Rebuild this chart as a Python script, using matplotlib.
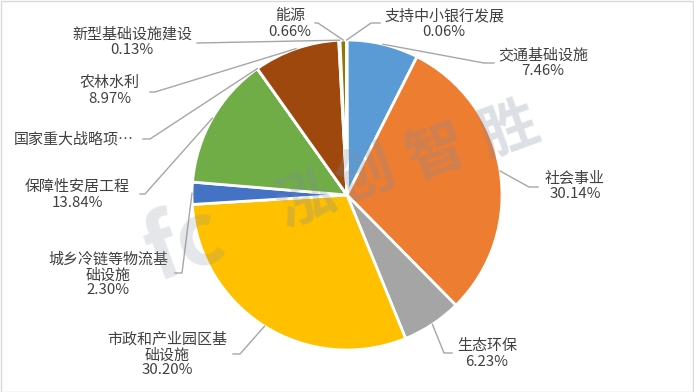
import numpy as np
import matplotlib.pyplot as plt
from matplotlib.patches import Rectangle

plt.rcParams['font.family'] = ['Noto Sans CJK SC', 'DejaVu Sans']

# 数据（顺时针，从12点方向开始）
labels = ['交通基础设施', '社会事业', '生态环保', '市政和产业园区基\n础设施', '城乡冷链等物流基\n础设施',
          '保障性安居工程', '国家重大战略项…', '农林水利', '新型基础设施建设', '能源', '支持中小银行发展']
values = [7.46, 30.14, 6.23, 30.20, 2.30, 13.84, 0.01, 8.97, 0.13, 0.66, 0.06]
show_pct = [True, True, True, True, True, True, False, True, True, True, True]
colors = ['#5B9BD5', '#ED7D31', '#A5A5A5', '#FFC000', '#4472C4', '#70AD47',
          '#255E91', '#9E480E', '#636363', '#997300', '#264478']

# 标签布局（像素坐标，自上而下）：文字中心, 折点, 线终点
label_xy = [(543, 63), (575, 186), (487, 354), (167, 355), (108, 275),
            (77, 195), (74, 139), (110, 91), (132, 42), (290, 24), (444, 24)]
elbow_xy = [(484, 63), (529, 187), (444, 353), (240, 354), (182, 273),
            (145, 194), (150, 139), (155, 92), (197, 43), (318, 23), (371, 23)]
end_xy = [(494, 63), (538, 187), (452, 353), (233, 354), (175, 273),
          (140, 194), (143, 139), (150, 92), (197, 43), (315, 23), (380, 23)]

W, H = 694, 392
cx, cy, r = 347, 195, 155


def fy(y):
    return H - y


fig = plt.figure(figsize=(W / 100, H / 100), dpi=100)
ax = fig.add_axes([0, 0, 1, 1])
ax.set_xlim(0, W)
ax.set_ylim(0, H)
ax.set_aspect('equal')
ax.axis('off')

wedges, _ = ax.pie(values, colors=colors, startangle=90, counterclock=False,
                   center=(cx, fy(cy)), radius=r,
                   wedgeprops=dict(edgecolor='white', linewidth=2))
ax.set_xlim(0, W)
ax.set_ylim(0, H)

txt_color = '#404040'
line_color = '#A6A6A6'
for i, w in enumerate(wedges):
    ang = np.deg2rad((w.theta1 + w.theta2) / 2)
    sx = cx + r * np.cos(ang)
    sy = fy(cy) + r * np.sin(ang)
    ex, ey = elbow_xy[i]
    tx, ty = end_xy[i]
    ax.plot([sx, ex, tx], [sy, fy(ey), fy(ty)], color=line_color, lw=1, zorder=3)
    lx, ly = label_xy[i]
    s = labels[i]
    if show_pct[i]:
        s = s + '\n' + f'{values[i]:.2f}%'
    ax.text(lx, fy(ly), s, ha='center', va='center', fontsize=10.8,
            color=txt_color, linespacing=1.1, zorder=4)

# 水印
wm_chars = ['泓', '创', '智', '胜']
wm_pos = [(305, 200), (366, 175), (436, 153), (510, 131)]
for ch, (x, y) in zip(wm_chars, wm_pos):
    ax.text(x, fy(y), ch, fontsize=42, fontweight='bold', color='#7F8BA0',
            alpha=0.27, rotation=20, ha='center', va='center', zorder=5)
ax.text(185, fy(245), 'fc', fontsize=62, fontweight='bold', style='italic',
        color='#8A8F99', alpha=0.22, rotation=20, ha='center', va='center', zorder=5)

ax.add_patch(Rectangle((0.5, 0.5), W - 1, H - 1, fill=False, edgecolor='#D9D9D9', lw=1, zorder=6))

fig.savefig('out.png', dpi=100)
